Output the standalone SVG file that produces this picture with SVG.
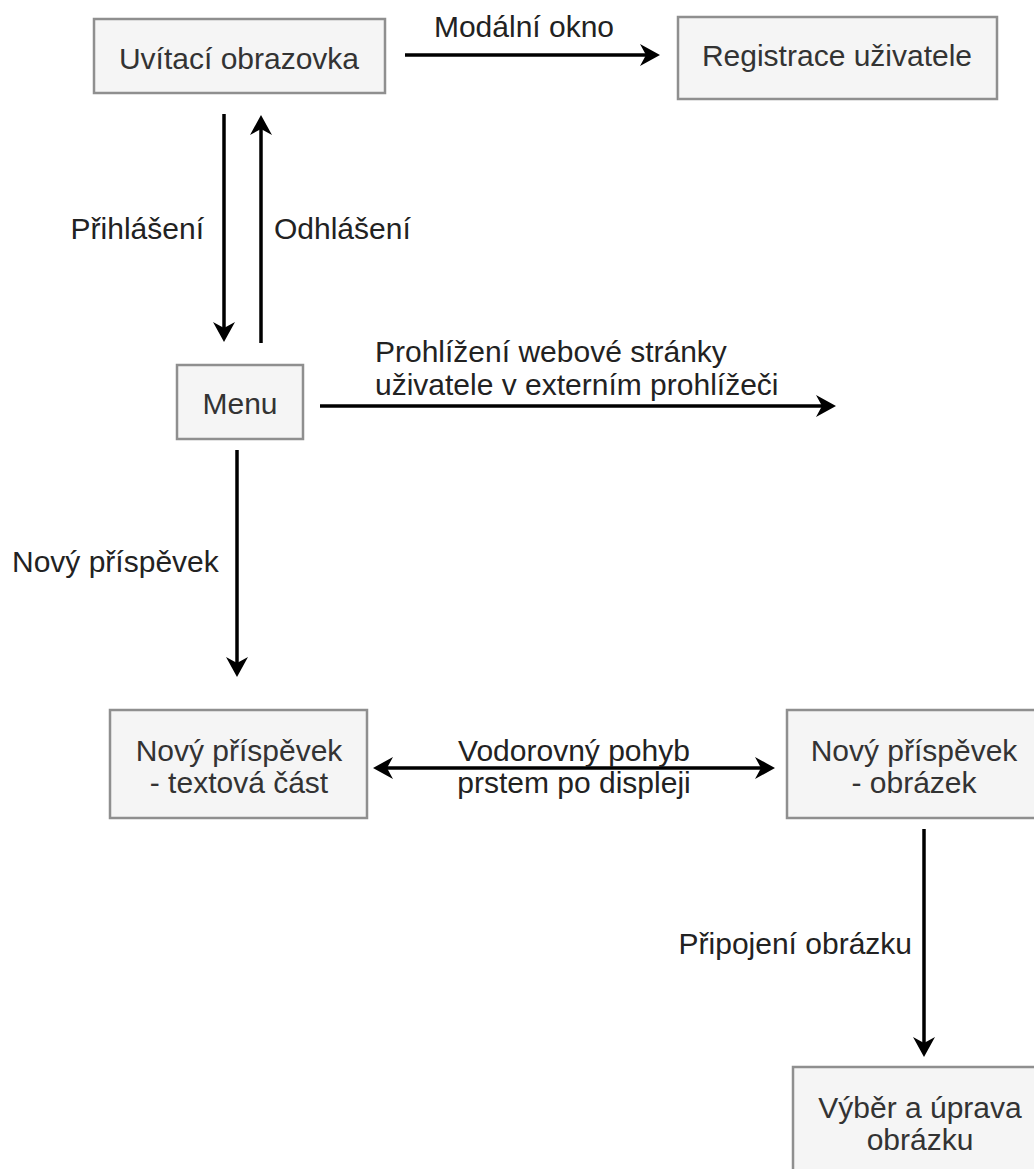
<svg xmlns="http://www.w3.org/2000/svg" width="1034" height="1169" viewBox="0 0 1034 1169">
<style>
.box{fill:#f5f5f5;stroke:#8f8f8f;stroke-width:2.5}
.bt{font-family:"Liberation Sans",Arial,sans-serif;font-size:30px;fill:#333;text-anchor:middle}
.lb{font-family:"Liberation Sans",Arial,sans-serif;font-size:30px;fill:#222}
.edge{fill:none;stroke:#000;stroke-width:3.5}
</style>
<defs>
<marker id="ah" markerUnits="userSpaceOnUse" viewBox="0 0 20 22" markerWidth="20" markerHeight="22" refX="6" refY="11" orient="auto-start-reverse">
<path d="M0,0 L20,11 L0,22 L6,11 Z" fill="#000"/>
</marker>
</defs>
<rect width="1034" height="1169" fill="#fff"/>
<g id="connectors">
<path class="edge" d="M405,55 H646" marker-end="url(#ah)"/>
<path class="edge" d="M224,114 V328" marker-end="url(#ah)"/>
<path class="edge" d="M261,343 V129" marker-end="url(#ah)"/>
<path class="edge" d="M320,406 H822" marker-end="url(#ah)"/>
<path class="edge" d="M237,450 V663" marker-end="url(#ah)"/>
<path class="edge" d="M387,768 H761" marker-start="url(#ah)" marker-end="url(#ah)"/>
<path class="edge" d="M924,829 V1043" marker-end="url(#ah)"/>
<text class="lb" x="524" y="37" text-anchor="middle">Modální okno</text>
<text class="lb" x="204" y="239" text-anchor="end">Přihlášení</text>
<text class="lb" x="274" y="239">Odhlášení</text>
<text class="lb" x="375" y="362">Prohlížení webové stránky</text>
<text class="lb" x="375" y="395">uživatele v externím prohlížeči</text>
<text class="lb" x="12" y="572">Nový příspěvek</text>
<text class="lb" x="574" y="761" text-anchor="middle">Vodorovný pohyb</text>
<text class="lb" x="574" y="793" text-anchor="middle">prstem po displeji</text>
<text class="lb" x="912" y="954" text-anchor="end">Připojení obrázku</text>
</g>
<g id="uvitaci">
<rect class="box" x="94" y="19" width="291" height="74"/>
<text class="bt" x="239" y="69">Uvítací obrazovka</text>
</g>
<g id="registrace">
<rect class="box" x="678" y="17" width="319" height="82"/>
<text class="bt" x="837" y="66">Registrace uživatele</text>
</g>
<g id="menu">
<rect class="box" x="177" y="365" width="126" height="74"/>
<text class="bt" x="240" y="414">Menu</text>
</g>
<g id="textova">
<rect class="box" x="110" y="710" width="257" height="108"/>
<text class="bt" x="239" y="761">Nový příspěvek</text>
<text class="bt" x="239" y="793">- textová část</text>
</g>
<g id="obrazek">
<rect class="box" x="787" y="710" width="262" height="108"/>
<text class="bt" x="914" y="761">Nový příspěvek</text>
<text class="bt" x="914" y="793">- obrázek</text>
</g>
<g id="vyber">
<rect class="box" x="793" y="1067" width="262" height="120"/>
<text class="bt" x="920" y="1118">Výběr a úprava</text>
<text class="bt" x="920" y="1150">obrázku</text>
</g>
</svg>
